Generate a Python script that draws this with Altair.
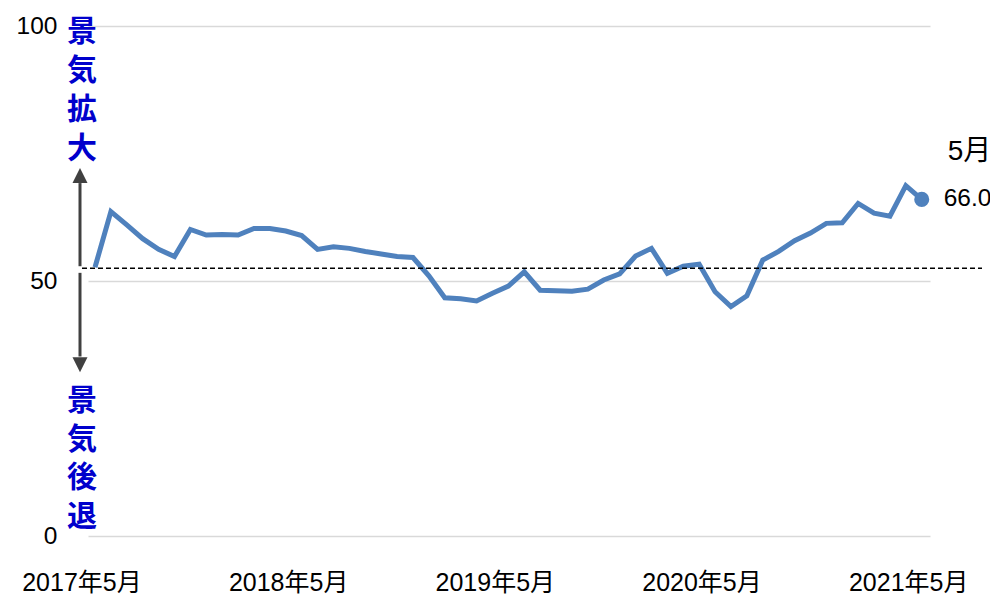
import altair as alt
import pandas as pd

# ---- data ----
values = [52.7, 63.6, 61.0, 58.3, 56.2, 54.8, 60.1, 59.0, 59.1, 59.0,
          60.3, 60.3, 59.8, 58.9, 56.2, 56.7, 56.4, 55.8, 55.3, 54.8,
          54.6, 51.0, 46.7, 46.5, 46.1, 47.6, 49.0, 51.8, 48.2, 48.1,
          48.0, 48.4, 50.2, 51.4, 54.9, 56.4, 51.5, 52.9, 53.3, 47.9,
          45.0, 47.1, 54.1, 55.8, 57.9, 59.4, 61.3, 61.4, 65.2, 63.3,
          62.7, 68.7, 66.0]
x_labels = ["2017年5月", "2018年5月", "2019年5月", "2020年5月", "2021年5月"]
y_ticks = [0, 50, 100]
threshold = [52.5]
last_label = "5月"
up_text = "景\n気\n拡\n大"
down_text = "景\n気\n後\n退"

LINE_BLUE = "#4F81BD"
ARROW = "#404040"
TEXT_BLUE = "#0000CC"
FONT = "Liberation Sans, Noto Sans CJK JP"
CJK = "Noto Sans CJK JP"

W, H = 842, 510

df = pd.DataFrame({"i": list(range(len(values))), "v": values})
last = df.tail(1)
lab_df = pd.DataFrame({"label": x_labels,
                       "pos": [-0.82 + 13 * k for k in range(len(x_labels))]})

xs = alt.Scale(domain=[-0.44, 52.52], nice=False, zero=False)
ys = alt.Scale(domain=[0, 100], nice=False)

line = alt.Chart(df).mark_line(color=LINE_BLUE, strokeWidth=5).encode(
    x=alt.X("i:Q", scale=xs, axis=None),
    y=alt.Y("v:Q", scale=ys, axis=alt.Axis(
        values=y_ticks, grid=True, gridColor="#D9D9D9", gridWidth=1.5,
        domain=False, ticks=False, tickSize=0, labelPadding=31,
        labelFontSize=24.5, labelFont=FONT, labelColor="#000000", title=None)),
)

dash = alt.Chart(pd.DataFrame({"y": threshold})).mark_rule(
    color="#000000", strokeWidth=1.3, strokeDash=[5, 3]).encode(
    y=alt.Y("y:Q", scale=ys), x=alt.value(-6), x2=alt.value(894))

arrows_df = pd.DataFrame({"y": [52.9, 51.6], "y2": [69.2, 35.2]})
arrow_lines = alt.Chart(arrows_df).mark_rule(color=ARROW, strokeWidth=3).encode(
    y=alt.Y("y:Q", scale=ys), y2="y2:Q", x=alt.value(-8))

up_head = alt.Chart(pd.DataFrame({"y": [70.7]})).mark_point(
    shape="M-1,1L0,-1L1,1Z", filled=True, size=225, color=ARROW, opacity=1).encode(
    y=alt.Y("y:Q", scale=ys), x=alt.value(-8))
down_head = alt.Chart(pd.DataFrame({"y": [33.6]})).mark_point(
    shape="M-1,-1L0,1L1,-1Z", filled=True, size=225, color=ARROW, opacity=1).encode(
    y=alt.Y("y:Q", scale=ys), x=alt.value(-8))

dot = alt.Chart(last).mark_circle(size=227, color=LINE_BLUE, opacity=1).encode(
    x=alt.X("i:Q", scale=xs), y=alt.Y("v:Q", scale=ys))

val_text = alt.Chart(last).mark_text(
    align="left", baseline="middle", dx=22, fontSize=24.5, font=FONT, color="#000000").encode(
    x=alt.X("i:Q", scale=xs), y=alt.Y("v:Q", scale=ys), text=alt.Text("v:Q", format=".1f"))

month_text = alt.Chart(last).mark_text(
    align="left", baseline="middle", dx=26, dy=-47, fontSize=28, font=FONT, color="#000000").encode(
    x=alt.X("i:Q", scale=xs), y=alt.Y("v:Q", scale=ys), text=alt.value(last_label))

xlab = alt.Chart(lab_df).mark_text(
    align="center", baseline="middle", fontSize=25, font=FONT, color="#000000").encode(
    x=alt.X("pos:Q", scale=xs), y=alt.value(557), text="label:N")

up_t = alt.Chart(pd.DataFrame({"t": [up_text]})).mark_text(
    align="center", baseline="top", lineBreak="\n", lineHeight=39, fontSize=30,
    fontWeight="bold", font=CJK, color=TEXT_BLUE).encode(
    x=alt.value(-6), y=alt.value(-9), text="t:N")

down_t = alt.Chart(pd.DataFrame({"t": [down_text]})).mark_text(
    align="center", baseline="top", lineBreak="\n", lineHeight=38.5, fontSize=30,
    fontWeight="bold", font=CJK, color=TEXT_BLUE).encode(
    x=alt.value(-6), y=alt.value(360), text="t:N")

chart = alt.layer(
    line, dash, arrow_lines, up_head, down_head, dot, val_text, month_text,
    xlab, up_t, down_t
).properties(
    width=W, height=H,
    autosize=alt.AutoSizeParams(type="none"),
    padding={"left": 80, "top": 18, "right": 60, "bottom": 62},
).configure_view(stroke=None)

chart.save("out.html", embed_options={"renderer": "svg", "actions": False})
